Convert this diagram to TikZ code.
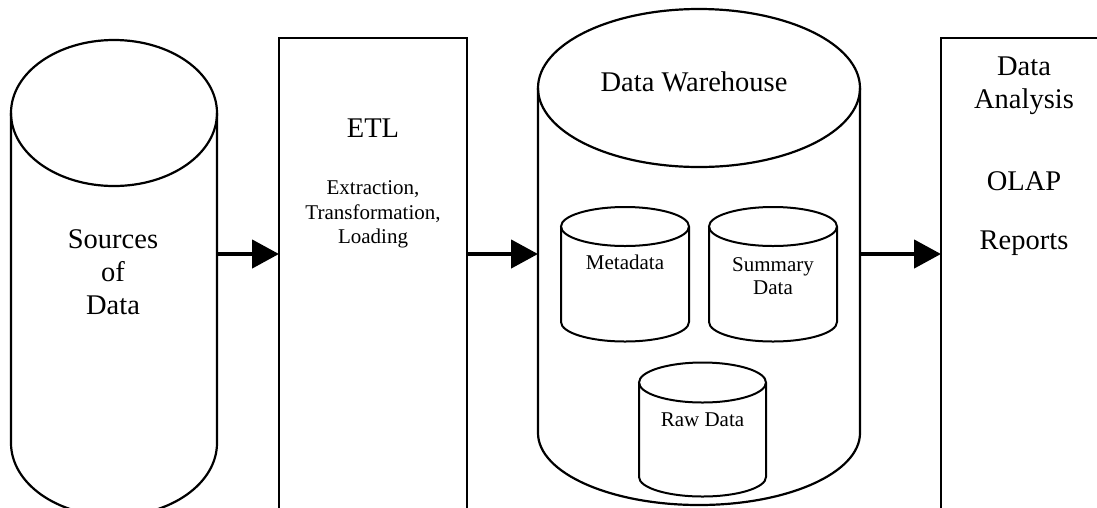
\documentclass[tikz,border=0pt]{standalone}
\usepackage{fontspec}
\setmainfont{Liberation Serif}
\usetikzlibrary{arrows.meta}
\newcommand{\mycyl}[6]{% cx, rx, ytop, ybot, ry top, ry bottom
  \draw (#1,-#3) ellipse[x radius=#2, y radius=#5];
  \draw (#1-#2,-#3) -- (#1-#2,-#4) arc[start angle=180, end angle=360, x radius=#2, y radius=#6] -- (#1+#2,-#3);
}
\tikzset{
  big/.style={font=\fontsize{28.5}{33}\selectfont, anchor=base, inner sep=0pt},
  small/.style={font=\fontsize{21}{24}\selectfont, anchor=base, inner sep=0pt},
  boxshape/.style={draw, line width=2.2pt, anchor=north west, inner sep=0pt, outer sep=0pt},
  arr/.style={line width=4.5pt, -{Triangle[length=27pt,width=28pt]}},
}
\begin{document}
\begin{tikzpicture}[x=1pt,y=1pt,line width=2.2pt]
\useasboundingbox (0,0) rectangle (1097,-507);
\clip (0,0) rectangle (1097,-507);
\fill[white] (0,0) rectangle (1097,-507);
% sources cylinder
\mycyl{114}{103}{113}{443}{73}{73}
\coordinate (srcR) at (217,-254);
\node[big] (s1) at (113,-248) {Sources};
\node[big] (s2) at (113,-281) {of};
\node[big] (s3) at (113,-314) {Data};
% ETL box
\node[boxshape, minimum width=188pt, minimum height=500pt] (etl) at (279,-38) {};
\node[big] (e1) at (373,-137) {ETL};
\node[small] (e2) at (373,-194) {Extraction,};
\node[small] (e3) at (373,-219) {Transformation,};
\node[small] (e4) at (373,-243) {Loading};
% data warehouse
\mycyl{699}{161}{88}{433}{79}{72}
\coordinate (dwL) at (538,-254);
\coordinate (dwR) at (860,-254);
\node[big] (dw) at (694,-91.7) {Data Warehouse};
\begin{scope}[line width=2pt]
\mycyl{625}{64}{226.5}{322}{19.5}{19.5}
\mycyl{773}{64}{226.5}{322}{19.5}{19.5}
\mycyl{702.5}{63.5}{382.5}{477}{20}{19.5}
\end{scope}
\node[small] (md) at (625,-269) {Metadata};
\node[small] (sm1) at (773,-271) {Summary};
\node[small] (sm2) at (773,-294) {Data};
\node[small] (rd) at (702.5,-426) {Raw Data};
% data analysis box
\node[boxshape, minimum width=200pt, minimum height=500pt] (da) at (941,-38) {};
\node[big] (a1) at (1024,-75) {Data};
\node[big] (a2) at (1024,-108) {Analysis};
\node[big] (a3) at (1024,-190) {OLAP};
\node[big] (a4) at (1024,-249) {Reports};
% arrows
\draw[arr] (srcR) -- (etl.west |- srcR);
\draw[arr] (etl.east |- srcR) -- (dwL);
\draw[arr] (dwR) -- (da.west |- dwR);
\end{tikzpicture}
\end{document}
